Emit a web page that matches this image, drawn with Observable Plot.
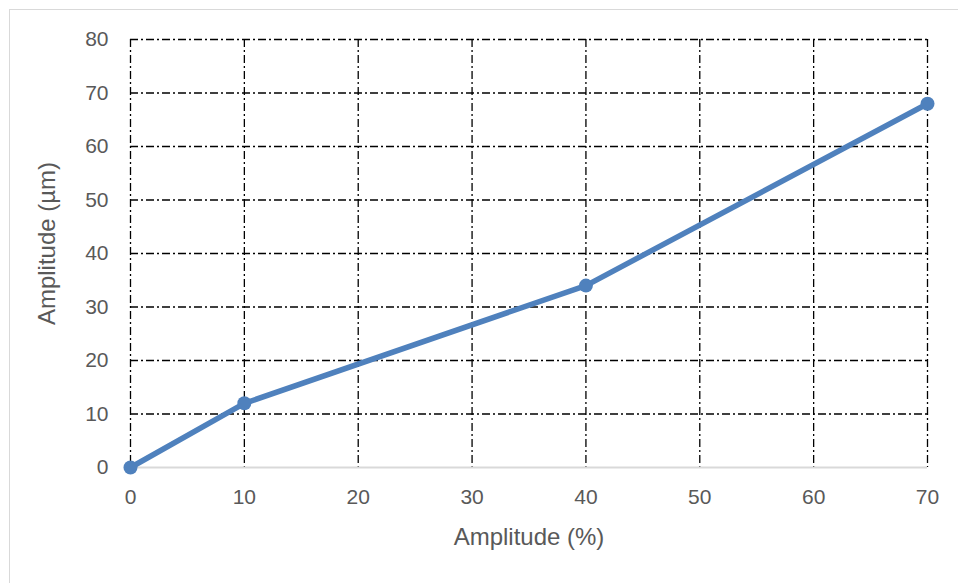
<!DOCTYPE html>
<html>
<head>
<meta charset="utf-8">
<script src="https://cdn.jsdelivr.net/npm/d3@7"></script>
<script src="https://cdn.jsdelivr.net/npm/@observablehq/plot@0.6"></script>
<style>
  html, body { margin: 0; padding: 0; background: #fff; }
  #wrap { position: relative; width: 958px; height: 583px; overflow: hidden; }
  #border { position: absolute; left: 9px; top: 9px; width: 980px; height: 600px; border: 1.5px solid #d9d9d9; box-sizing: border-box; }
  #chart { position: absolute; left: 0; top: 0; }
</style>
</head>
<body>
<div id="wrap"><div id="border"></div><div id="chart"></div></div>
<script>
const amplitudePct = [0, 10, 40, 70];
const amplitudeUm = [0, 12, 34, 68];
const xTicks = [0, 10, 20, 30, 40, 50, 60, 70];
const yTicks = [0, 10, 20, 30, 40, 50, 60, 70, 80];

const data = amplitudePct.map((x, i) => ({x, y: amplitudeUm[i]}));
const font = "Liberation Sans, Arial, sans-serif";
const dash = "8,3,2,3";
const grey = "#595959";

const chart = Plot.plot({
  width: 958,
  height: 583,
  marginLeft: 130,
  marginRight: 31,
  marginTop: 39,
  marginBottom: 116,
  style: { fontFamily: font, fontSize: "21px", color: grey, background: "transparent", overflow: "visible" },
  x: { domain: [0, 70], axis: null },
  y: { domain: [0, 80], axis: null },
  marks: [
    Plot.ruleX(xTicks, { stroke: "#000", strokeWidth: 1.3, strokeDasharray: dash }),
    Plot.ruleY(yTicks.filter(d => d > 0), { stroke: "#000", strokeWidth: 1.3, strokeDasharray: dash }),
    Plot.ruleY([0], { stroke: "#d9d9d9", strokeWidth: 2 }),
    Plot.text(xTicks, { x: d => d, y: 0, dy: 30, text: d => String(d), fill: grey, fontSize: 21, textAnchor: "middle" }),
    Plot.text(yTicks, { y: d => d, frameAnchor: "left", dx: -22, text: d => String(d), fill: grey, fontSize: 21, textAnchor: "end" }),
    Plot.line(data, { x: "x", y: "y", stroke: "#4f81bd", strokeWidth: 5.5 }),
    Plot.dot(data, { x: "x", y: "y", fill: "#4f81bd", r: 7 }),
    Plot.text(["Amplitude (%)"], { frameAnchor: "bottom", dy: 77, fill: grey, fontSize: 24, textAnchor: "middle" }),
    Plot.text(["Amplitude (µm)"], { frameAnchor: "left", dx: -83, dy: -10, rotate: -90, fill: grey, fontSize: 24, textAnchor: "middle" })
  ]
});
document.getElementById("chart").appendChild(chart);
</script>
</body>
</html>
